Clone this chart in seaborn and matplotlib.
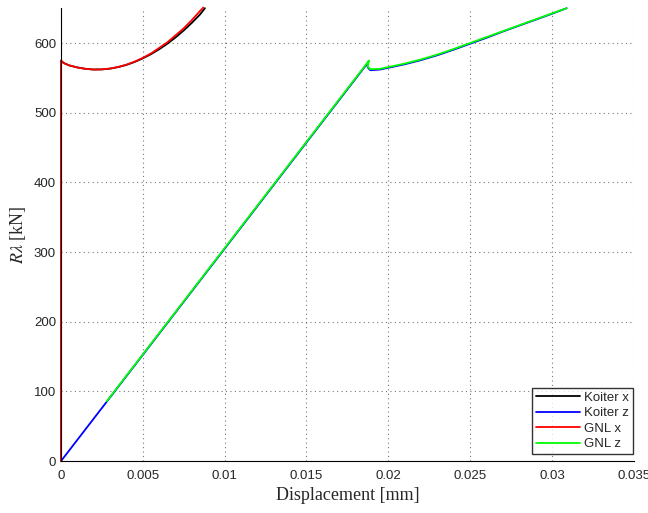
import numpy as np
import pandas as pd
import seaborn as sns
import matplotlib
matplotlib.use("Agg")
import matplotlib.pyplot as plt
from matplotlib.ticker import MultipleLocator

# Koiter x (black)
koiter_x_d = [0, 0, 0.0002, 0.0005, 0.001, 0.0015, 0.002, 0.0025, 0.003, 0.0035, 0.004,
              0.0045, 0.005, 0.0055, 0.006, 0.0065, 0.007, 0.0075, 0.008, 0.0085, 0.0088]
koiter_x_f = [0, 574, 571, 568, 565, 563, 562, 562.2, 563.3, 565.5, 568.6,
              572.8, 578, 584, 591, 599, 608, 618, 629, 641, 650]

# GNL x (red)
gnl_x_d = [0, 0, 0.0002, 0.0005, 0.001, 0.0015, 0.002, 0.0025, 0.003, 0.0035, 0.004,
           0.0045, 0.005, 0.0055, 0.006, 0.0065, 0.007, 0.0075, 0.008, 0.0085, 0.0087]
gnl_x_f = [0, 575, 571, 568, 565, 563, 562, 562.2, 563.4, 565.7, 569,
           573.3, 578.7, 585, 593, 601, 611, 621, 633, 646, 651]

# Koiter z (blue)
koiter_z_d = [0, 0.0187, 0.01875, 0.0189, 0.0195, 0.02, 0.021, 0.022, 0.023, 0.024,
              0.025, 0.026, 0.027, 0.028, 0.029, 0.030, 0.0309]
koiter_z_f = [0, 570, 565, 561, 562, 564.5, 569.5, 575.5, 582.5, 590.5,
              599, 607.5, 616.5, 625, 633.5, 642, 650]

# GNL z (green)
gnl_z_d = [0.0028, 0.0187, 0.01882, 0.01875, 0.0189, 0.0195, 0.02, 0.021, 0.022, 0.023,
           0.024, 0.025, 0.026, 0.027, 0.028, 0.029, 0.030, 0.0309]
gnl_z_f = [86, 571, 575, 566, 562.5, 563, 565.5, 570.5, 576.5, 583.5,
           591.5, 600, 608.5, 617, 625.5, 634, 642.5, 650]

sns.set_style("white")
plt.rcParams["font.family"] = ["Liberation Sans", "DejaVu Sans"]
plt.rcParams["mathtext.fontset"] = "stix"

fig = plt.figure(figsize=(6.48, 5.13), dpi=100)
ax = fig.add_axes([0.094, 0.101, 0.884, 0.883])

series = [
    ("Koiter x", koiter_x_d, koiter_x_f, "black"),
    ("Koiter z", koiter_z_d, koiter_z_f, "blue"),
    ("GNL x", gnl_x_d, gnl_x_f, "red"),
    ("GNL z", gnl_z_d, gnl_z_f, "#00ff00"),
]
for name, d, f, c in series:
    df = pd.DataFrame({"disp": d, "force": f})
    sns.lineplot(data=df, x="disp", y="force", sort=False, color=c, lw=1.3,
                 label=name, ax=ax, estimator=None)
for ln in ax.get_lines():
    ln.set_clip_on(False)

ax.set_xlim(0, 0.035)
ax.set_ylim(0, 650)
ax.xaxis.set_major_locator(MultipleLocator(0.005))
ax.yaxis.set_major_locator(MultipleLocator(100))
ax.xaxis.set_minor_locator(MultipleLocator(0.001))
ax.yaxis.set_minor_locator(MultipleLocator(20))
ax.set_xticks(np.arange(0, 0.0351, 0.005))
ax.set_xticklabels(["0", "0.005", "0.01", "0.015", "0.02", "0.025", "0.03", "0.035"])
ax.tick_params(which="major", direction="in", length=5, width=0.8, labelsize=9.5, color="black")
ax.tick_params(which="minor", direction="in", length=2.5, width=0.6, color="black")
ax.tick_params(axis="x", pad=6)

ax.grid(True, which="major", linestyle=(0, (1, 3)), color="#777777", linewidth=0.8)
for s in ["top", "right"]:
    ax.spines[s].set_visible(False)
for s in ["left", "bottom"]:
    ax.spines[s].set_color("black")
    ax.spines[s].set_linewidth(0.8)

ax.set_xlabel("Displacement [mm]", family="Liberation Serif", fontsize=13, labelpad=4)
ax.set_ylabel(r"$R\lambda$ [kN]", family="Liberation Serif", fontsize=13, labelpad=4)

leg = ax.legend(loc="lower right", fontsize=9.5, frameon=True, fancybox=False,
                edgecolor="black", handlelength=3.3, handletextpad=0.3,
                borderpad=0.3, labelspacing=0.25, borderaxespad=0.0,
                bbox_to_anchor=(0.998, 0.015))
leg.get_frame().set_linewidth(1.0)
leg.set_zorder(5)

fig.savefig("out.png", dpi=100)
